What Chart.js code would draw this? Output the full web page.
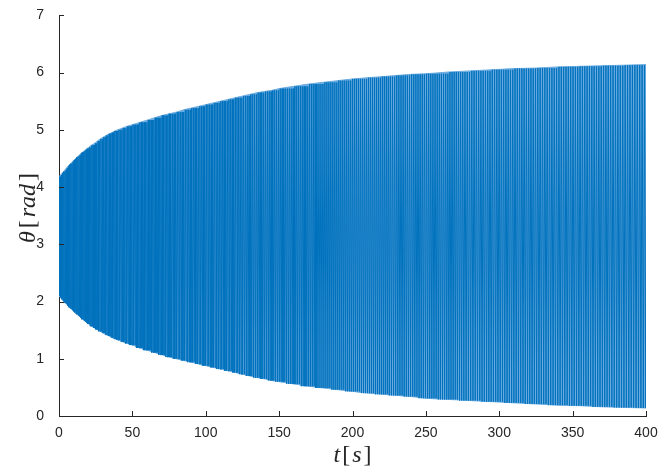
<!DOCTYPE html>
<html>
<head>
<meta charset="utf-8">
<script src="https://cdn.jsdelivr.net/npm/chart.js@4"></script>
<style>
  html, body { margin: 0; padding: 0; background: #fff; }
  #wrap { width: 658px; height: 474px; }
</style>
</head>
<body>
<div id="wrap"><canvas id="thetaChart"></canvas></div>
<script>
// turning points of theta(t) (upper and lower envelope)
const envTime = [0, 1, 2, 3, 4, 5, 6, 7, 8, 9, 10, 11, 12, 13, 14, 15, 16, 17, 18, 19, 20,
  22, 24, 26, 28, 30, 32, 34, 36, 38, 40, 43, 46, 50, 55, 60, 65, 70, 75, 80, 85, 90, 95, 100,
  105, 110, 115, 120, 125, 130, 135, 140, 145, 150, 160, 170, 180, 190, 200, 210, 220, 230, 240, 250,
  265, 280, 295, 310, 325, 340, 355, 370, 385, 400];
const envUpper = [4.18, 4.21, 4.24, 4.27, 4.30, 4.33, 4.36, 4.39, 4.41, 4.44, 4.47, 4.49, 4.52, 4.54, 4.56, 4.59, 4.61, 4.63, 4.65, 4.67, 4.69,
  4.73, 4.76, 4.80, 4.84, 4.87, 4.90, 4.93, 4.95, 4.98, 5.00, 5.03, 5.06, 5.09, 5.13, 5.17, 5.21, 5.25, 5.28, 5.31, 5.35, 5.38, 5.41, 5.44,
  5.47, 5.50, 5.53, 5.56, 5.59, 5.62, 5.65, 5.67, 5.69, 5.72, 5.76, 5.80, 5.83, 5.86, 5.89, 5.91, 5.93, 5.95, 5.97, 5.98,
  6.01, 6.03, 6.05, 6.07, 6.08, 6.10, 6.11, 6.12, 6.13, 6.14];
const envLower = [2.10, 2.07, 2.04, 2.01, 1.98, 1.96, 1.93, 1.90, 1.88, 1.85, 1.83, 1.81, 1.78, 1.76, 1.74, 1.72, 1.69, 1.67, 1.65, 1.63, 1.61,
  1.57, 1.54, 1.51, 1.48, 1.45, 1.42, 1.40, 1.37, 1.35, 1.33, 1.30, 1.27, 1.24, 1.19, 1.15, 1.11, 1.07, 1.03, 1.00, 0.97, 0.94, 0.91, 0.88,
  0.85, 0.82, 0.79, 0.76, 0.73, 0.70, 0.67, 0.65, 0.62, 0.60, 0.56, 0.52, 0.49, 0.46, 0.43, 0.40, 0.38, 0.36, 0.34, 0.31,
  0.29, 0.27, 0.25, 0.23, 0.21, 0.19, 0.18, 0.16, 0.15, 0.14];

// oscillation period, estimated from the stripe spacing
const periodTime = [0, 50, 100, 150, 200, 250, 300, 350, 400];
const periodSec = [0.8, 0.95, 1.1, 1.25, 1.35, 1.45, 1.55, 1.6, 1.65];

const xTicks = [0, 50, 100, 150, 200, 250, 300, 350, 400];
const yTicks = [0, 1, 2, 3, 4, 5, 6, 7];

function nearest(times, values, t) {
  let best = 0;
  for (let i = 1; i < times.length; i++) {
    if (Math.abs(times[i] - t) < Math.abs(times[best] - t)) best = i;
  }
  return values[best];
}

// last reading at or before t, so the swing never passes the envelope
function previous(times, values, t) {
  let idx = 0;
  for (let i = 0; i < times.length; i++) if (times[i] <= t) idx = i;
  return values[idx];
}

// swing between the read turning points, half a period at a time
const thetaPoints = [];
let t = 0, up = true;
while (true) {
  thetaPoints.push({ x: t, y: up ? previous(envTime, envUpper, t) : nearest(envTime, envLower, t) });
  if (t > 400) break;
  t += nearest(periodTime, periodSec, t) / 2;
  up = !up;
}

const upperPoints = envTime.map((tt, i) => ({ x: tt, y: envUpper[i] }));
const lowerPoints = envTime.map((tt, i) => ({ x: tt, y: envLower[i] }));

const axisColor = '#262626';
const lineBlue = '#0072BD';
const bandBlue = 'rgb(108, 172, 224)';

// MATLAB style ticks pointing into the axes
const inwardTicks = {
  id: 'inwardTicks',
  afterDatasetsDraw(chart) {
    const { ctx, chartArea: a, scales: { x, y } } = chart;
    ctx.save();
    ctx.strokeStyle = axisColor;
    ctx.lineWidth = 1;
    ctx.beginPath();
    xTicks.forEach(v => {
      const px = Math.round(x.getPixelForValue(v)) + 0.5;
      ctx.moveTo(px, a.bottom);
      ctx.lineTo(px, a.bottom - 5);
    });
    yTicks.forEach(v => {
      const py = Math.round(y.getPixelForValue(v)) + 0.5;
      ctx.moveTo(a.left, py);
      ctx.lineTo(a.left + 5, py);
    });
    ctx.stroke();
    ctx.restore();
  }
};

// axis labels with LaTeX-like italic letters and upright brackets
function drawMixed(ctx, parts, gap) {
  const fontFor = italic => (italic ? 'italic ' : '') + '24px "Liberation Serif", "Times New Roman", serif';
  const widths = parts.map(([s, it]) => { ctx.font = fontFor(it); return ctx.measureText(s).width; });
  const total = widths.reduce((a, b) => a + b, 0) + gap * (parts.length - 1);
  let cx = -total / 2;
  parts.forEach(([s, it], i) => {
    ctx.font = fontFor(it);
    ctx.fillText(s, cx, 0);
    cx += widths[i] + gap;
  });
}

const axisTitles = {
  id: 'axisTitles',
  afterDraw(chart) {
    const { ctx, chartArea: a } = chart;
    ctx.save();
    ctx.fillStyle = axisColor;
    ctx.textAlign = 'left';
    ctx.textBaseline = 'alphabetic';
    ctx.save();
    ctx.translate((a.left + a.right) / 2, 462);
    drawMixed(ctx, [['t', true], ['[', false], ['s', true], [']', false]], 2);
    ctx.restore();
    ctx.save();
    ctx.translate(35, 208);
    ctx.rotate(-Math.PI / 2);
    drawMixed(ctx, [['\u03b8', true], ['[', false], ['rad', true], [']', false]], 3);
    ctx.restore();
    ctx.restore();
  }
};

const tickFont = { family: '"Liberation Sans", Arial, Helvetica, sans-serif', size: 14 };

new Chart(document.getElementById('thetaChart').getContext('2d'), {
  type: 'line',
  data: {
    datasets: [
      {
        label: 'theta',
        data: thetaPoints,
        borderColor: lineBlue,
        borderWidth: 1,
        pointRadius: 0,
        tension: 0,
        fill: false,
        order: 0
      },
      {
        label: 'upper',
        data: upperPoints,
        borderColor: bandBlue,
        borderWidth: 1,
        backgroundColor: bandBlue,
        pointRadius: 0,
        cubicInterpolationMode: 'monotone',
        fill: '+1',
        order: 1
      },
      {
        label: 'lower',
        data: lowerPoints,
        borderColor: bandBlue,
        borderWidth: 1,
        pointRadius: 0,
        cubicInterpolationMode: 'monotone',
        fill: false,
        order: 2
      }
    ]
  },
  options: {
    responsive: true,
    maintainAspectRatio: false,
    animation: false,
    events: [],
    layout: { padding: { left: 0, top: 13, right: 12, bottom: 0 } },
    plugins: { legend: { display: false }, tooltip: { enabled: false } },
    scales: {
      x: {
        type: 'linear',
        min: 0,
        max: 400,
        afterFit(scale) { scale.height = 58; scale.paddingLeft = 0; scale.paddingRight = 0; },
        afterBuildTicks(scale) { scale.ticks = xTicks.map(v => ({ value: v })); },
        grid: { display: false },
        border: { display: true, color: axisColor, width: 1 },
        ticks: { color: axisColor, font: tickFont, padding: 1, maxRotation: 0, autoSkip: false }
      },
      y: {
        type: 'linear',
        min: 0,
        max: 7,
        afterFit(scale) { scale.width = 59; },
        afterBuildTicks(scale) { scale.ticks = yTicks.map(v => ({ value: v })); },
        grid: { display: false },
        border: { display: true, color: axisColor, width: 1 },
        ticks: { color: axisColor, font: tickFont, padding: 7 }
      }
    }
  },
  plugins: [inwardTicks, axisTitles]
});
</script>
</body>
</html>
